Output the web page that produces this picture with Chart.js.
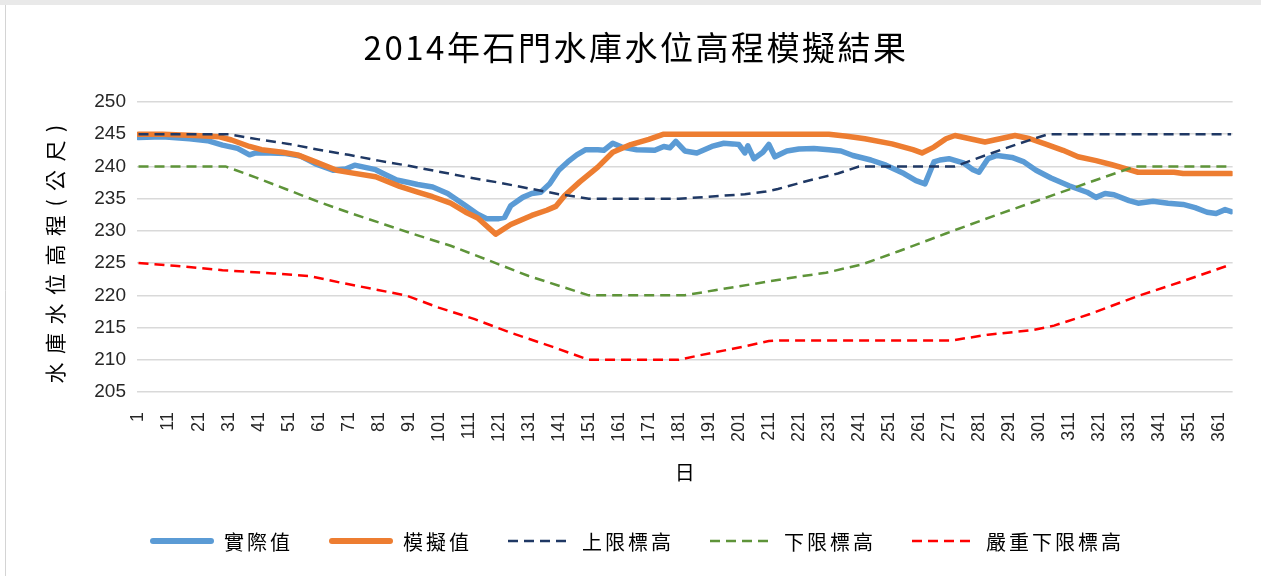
<!DOCTYPE html>
<html>
<head>
<meta charset="utf-8">
<title>2014年石門水庫水位高程模擬結果</title>
<script src="https://cdn.jsdelivr.net/npm/chart.js@4.4.1/dist/chart.umd.min.js"></script>
<style>
  html, body { margin: 0; padding: 0; background: #ffffff; }
  #wrap { width: 1261px; height: 576px; position: relative; }
  canvas { display: block; }
</style>
</head>
<body>
<div id="wrap"><canvas id="levelChart" width="1261" height="576"></canvas></div>
<script>
// ---- text ----
const chartTitle = '2014年石門水庫水位高程模擬結果';
const yAxisTitle = '水庫水位高程(公尺)';
const xAxisTitle = '日';
const seriesNames = ['實際值', '模擬值', '上限標高', '下限標高', '嚴重下限標高'];

// ---- tick labels (day of year) ----
const dayTicks = [1, 11, 21, 31, 41, 51, 61, 71, 81, 91, 101, 111, 121, 131, 141, 151, 161, 171, 181,
                  191, 201, 211, 221, 231, 241, 251, 261, 271, 281, 291, 301, 311, 321, 331, 341, 351, 361];

// ---- observed water level (m) ----
const actualDay = [1, 9, 18, 24, 29, 34, 38, 40, 45, 50, 55, 60, 66, 70, 73, 80, 83, 87, 91, 94, 99,
  104, 110, 114, 117, 121, 123, 125, 129, 132, 135, 138, 141, 144, 147, 150, 154, 156, 159, 162, 167,
  173, 176, 178, 180, 183, 187, 192, 196, 199, 201, 203, 204, 206, 209, 211, 213, 217, 221, 226, 231,
  235, 239, 245, 250, 256, 260, 263, 266, 268, 271, 276, 279, 281, 284, 287, 292, 296, 300, 305, 311,
  317, 320, 323, 326, 331, 334, 339, 344, 349, 353, 357, 360, 363, 365];
const actualLevel = [244.5, 244.6, 244.3, 244.0, 243.3, 242.8, 241.8, 242.1, 242.1, 242.0, 241.6, 240.4,
  239.4, 239.6, 240.2, 239.5, 238.8, 237.9, 237.5, 237.2, 236.8, 235.8, 233.9, 232.6, 231.9, 231.9,
  232.1, 233.9, 235.2, 235.8, 236.0, 237.3, 239.4, 240.7, 241.8, 242.6, 242.6, 242.5, 243.6, 243.0,
  242.6, 242.5, 243.1, 242.9, 243.9, 242.4, 242.1, 243.1, 243.6, 243.5, 243.4, 242.1, 243.2, 241.2,
  242.2, 243.4, 241.5, 242.4, 242.7, 242.8, 242.6, 242.4, 241.7, 241.0, 240.2, 238.9, 237.8, 237.3,
  240.7, 241.0, 241.2, 240.5, 239.5, 239.1, 241.2, 241.7, 241.4, 240.7, 239.4, 238.2, 237.0, 236.0,
  235.2, 235.8, 235.6, 234.7, 234.3, 234.6, 234.3, 234.1, 233.6, 232.9, 232.7, 233.3, 233.0];

// ---- simulated water level (m) ----
const simDay = [1, 9, 20, 28, 32, 38, 42, 49, 54, 60, 67, 72, 80, 88, 94, 99, 105, 110, 114, 120, 125,
  132, 137, 140, 143, 148, 154, 159, 165, 171, 176, 231, 237, 243, 252, 259, 262, 266, 270, 273, 278,
  283, 288, 293, 298, 303, 309, 314, 320, 325, 331, 334, 346, 349, 365];
const simLevel = [245.0, 245.0, 244.8, 244.6, 244.1, 243.1, 242.6, 242.2, 241.8, 240.7, 239.4, 239.0,
  238.4, 236.9, 236.0, 235.3, 234.3, 232.9, 232.0, 229.5, 231.0, 232.4, 233.2, 233.8, 235.5, 237.6,
  239.9, 242.2, 243.4, 244.2, 245.0, 245.0, 244.7, 244.3, 243.5, 242.6, 242.1, 243.0, 244.3, 244.8,
  244.3, 243.8, 244.3, 244.8, 244.3, 243.5, 242.5, 241.5, 240.9, 240.3, 239.5, 239.1, 239.1, 238.9, 238.9];

// ---- rule curves (m) ----
const upperDay = [1, 31, 41, 51, 61, 71, 81, 91, 101, 111, 121, 131, 141, 151, 181, 191, 203, 210, 214,
  225, 234, 241, 273, 283, 294, 304, 365];
const upperLevel = [245, 245, 244.2, 243.5, 242.6, 241.8, 240.9, 240.1, 239.2, 238.3, 237.5, 236.6, 235.7,
  235, 235, 235.3, 235.7, 236.1, 236.5, 237.9, 238.9, 240, 240, 241.7, 243.5, 245, 245];

const lowerDay = [1, 30, 40, 50, 61, 72, 83, 94, 105, 120, 131, 143, 151, 183, 193, 205, 218, 230, 242,
  254, 270, 287, 303, 320, 333, 365];
const lowerLevel = [240, 240, 238.3, 236.5, 234.5, 232.7, 231.0, 229.3, 227.7, 225.0, 223.0, 221.2, 220,
  220, 220.8, 221.7, 222.7, 223.5, 224.8, 226.8, 229.6, 232.5, 235.1, 237.9, 240, 240];

const criticalDay = [1, 13, 29, 46, 58, 68, 80, 90, 101, 113, 125, 139, 151, 181, 188, 199, 211, 215, 272,
  284, 299, 306, 318, 334, 349, 365];
const criticalLevel = [225, 224.6, 223.9, 223.4, 223.0, 222.0, 220.9, 220, 218.1, 216.3, 214.2, 212, 210,
  210, 210.7, 211.7, 212.9, 213, 213, 213.9, 214.6, 215.3, 217.1, 219.9, 222.2, 224.8];

const toPoints = (xs, ys) => xs.map((x, i) => ({ x: x, y: ys[i] }));

const cjkFont = '"Noto Sans CJK TC", "Noto Sans CJK SC", sans-serif';
const numFont = '"Liberation Sans", Arial, sans-serif';

// frame, heading, rotated axis title and legend row
const decorations = {
  id: 'decorations',
  beforeDraw(chart) {
    const ctx = chart.ctx;
    ctx.save();
    ctx.fillStyle = '#ffffff';
    ctx.fillRect(0, 0, chart.width, chart.height);
    ctx.fillStyle = '#e9e9e9';
    ctx.fillRect(0, 0, chart.width, 5);
    ctx.strokeStyle = '#d4d4d4';
    ctx.lineWidth = 1;
    ctx.beginPath();
    ctx.moveTo(5.5, 5);
    ctx.lineTo(5.5, chart.height);
    ctx.stroke();
    ctx.restore();
  },
  afterDraw(chart) {
    const ctx = chart.ctx;
    // heading
    ctx.save();
    ctx.fillStyle = '#000000';
    ctx.font = '33px ' + cjkFont;
    ctx.letterSpacing = '2.5px';
    ctx.textAlign = 'center';
    ctx.textBaseline = 'middle';
    ctx.fillText(chartTitle, 636, 47);
    ctx.restore();

    // vertical axis title
    ctx.save();
    ctx.fillStyle = '#000000';
    ctx.font = '21px ' + cjkFont;
    ctx.letterSpacing = '8.5px';
    ctx.textAlign = 'center';
    ctx.textBaseline = 'middle';
    ctx.translate(55, 250);
    ctx.rotate(-Math.PI / 2);
    ctx.fillText(yAxisTitle, 0, 0);
    ctx.restore();

    // legend
    ctx.save();
    ctx.font = '20px ' + cjkFont;
    ctx.letterSpacing = '3px';
    const sample = 64, gap = 10, spacing = 36;
    const items = chart.data.datasets;
    const widths = items.map(ds => sample + gap + ctx.measureText(ds.label).width);
    const total = widths.reduce((a, b) => a + b, 0) + spacing * (items.length - 1);
    let x = 637 - total / 2;
    const y = 541;
    items.forEach((ds, i) => {
      const dashed = ds.borderDash && ds.borderDash.length;
      ctx.beginPath();
      ctx.setLineDash(dashed ? ds.borderDash : []);
      ctx.lineWidth = dashed ? ds.borderWidth : 6;
      ctx.lineCap = dashed ? 'butt' : 'round';
      ctx.strokeStyle = ds.borderColor;
      const inset = dashed ? 0 : 3;
      ctx.moveTo(x + inset, y);
      ctx.lineTo(x + sample - inset, y);
      ctx.stroke();
      ctx.setLineDash([]);
      ctx.fillStyle = '#000000';
      ctx.textAlign = 'left';
      ctx.textBaseline = 'middle';
      ctx.fillText(ds.label, x + sample + gap, y + 1);
      x += widths[i] + spacing;
    });
    ctx.restore();
  }
};

const solid = (label, color, xs, ys, order) => ({
  label, data: toPoints(xs, ys), borderColor: color, backgroundColor: color,
  borderWidth: 5.5, pointRadius: 0, tension: 0, borderJoinStyle: 'round', borderCapStyle: 'round', order
});
const dashed = (label, color, xs, ys, order) => ({
  label, data: toPoints(xs, ys), borderColor: color, backgroundColor: color,
  borderWidth: 2.5, borderDash: [10, 6], pointRadius: 0, tension: 0, order
});

new Chart(document.getElementById('levelChart'), {
  type: 'line',
  data: {
    datasets: [
      solid(seriesNames[0], '#5B9BD5', actualDay, actualLevel, 5),
      solid(seriesNames[1], '#ED7D31', simDay, simLevel, 4),
      dashed(seriesNames[2], '#1F3864', upperDay, upperLevel, 3),
      dashed(seriesNames[3], '#5E9439', lowerDay, lowerLevel, 2),
      dashed(seriesNames[4], '#FF0000', criticalDay, criticalLevel, 1)
    ]
  },
  options: {
    responsive: false,
    animation: false,
    devicePixelRatio: 1,
    layout: { padding: { top: 102, left: 0, right: 23, bottom: 84 } },
    plugins: { legend: { display: false }, title: { display: false }, tooltip: { enabled: false } },
    scales: {
      x: {
        type: 'linear',
        min: 0.5,
        max: 365.5,
        afterBuildTicks: s => { s.ticks = dayTicks.map(v => ({ value: v })); },
        afterFit: s => { s.height = 100; },
        ticks: {
          autoSkip: false, minRotation: 90, maxRotation: 90, padding: 20,
          color: '#262626', font: { family: numFont, size: 18 }
        },
        grid: { display: false, drawTicks: false },
        border: { display: false },
        title: {
          display: true, text: xAxisTitle, color: '#000000',
          font: { family: cjkFont, size: 20 }, padding: { top: 0, bottom: 8 }
        }
      },
      y: {
        min: 205,
        max: 250,
        afterFit: s => { s.width = 137; },
        ticks: { stepSize: 5, padding: 11, color: '#262626', font: { family: numFont, size: 19 } },
        grid: { color: '#d9d9d9', lineWidth: 1.5, drawTicks: false },
        border: { display: false }
      }
    }
  },
  plugins: [decorations]
});
</script>
</body>
</html>
